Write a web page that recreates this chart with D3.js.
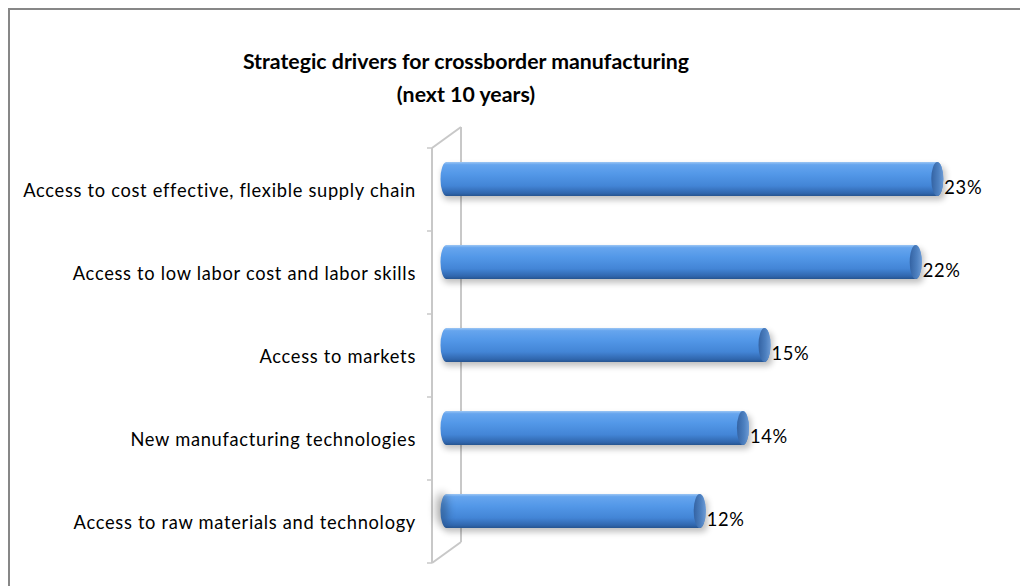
<!DOCTYPE html>
<html>
<head>
<meta charset="utf-8">
<script src="https://cdn.jsdelivr.net/npm/d3@7/dist/d3.min.js"></script>
<style>
  html, body { margin: 0; padding: 0; background: #fff; overflow: hidden; }
  svg { display: block; font-family: Lato, "Open Sans", sans-serif; }
</style>
</head>
<body>
<svg id="chart" width="1020" height="586"></svg>
<script>
// Survey results: strategic drivers for crossborder manufacturing
const categories = [
  "Access to cost effective, flexible supply chain",
  "Access to low labor cost and labor skills",
  "Access to markets",
  "New manufacturing technologies",
  "Access to raw materials and technology"
];
const shares = [23, 22, 15, 14, 12];
const titleLines = ["Strategic drivers for crossborder manufacturing", "(next 10 years)"];

const W = 1020, H = 586;
const svg = d3.select("#chart");

// outer chart-area frame (right and bottom edges fall outside the view)
svg.append("rect")
  .attr("x", 9).attr("y", 9)
  .attr("width", W + 20).attr("height", H + 20)
  .attr("fill", "#fff").attr("stroke", "#878787").attr("stroke-width", 2);

// pseudo-3D depth of the floor/wall
const depth = { dx: 29, dy: -21 };
const wallX = 432;

const y = d3.scaleBand().domain(categories).range([148, 563]).padding(0);
const x = d3.scaleLinear().domain([0, 25]).range([wallX + depth.dx / 2, wallX + depth.dx / 2 + 25 * 21.6]);

const defs = svg.append("defs");
const body = defs.append("linearGradient").attr("id", "cyl").attr("x1", 0).attr("y1", 0).attr("x2", 0).attr("y2", 1);
[[0, "#9cc6f4"], [0.08, "#66a5ee"], [0.35, "#5398e8"], [0.7, "#4385d6"], [0.92, "#3066ad"], [1, "#26548f"]]
  .forEach(([o, c]) => body.append("stop").attr("offset", o).attr("stop-color", c));
const cap = defs.append("linearGradient").attr("id", "cap").attr("x1", 0).attr("y1", 0).attr("x2", 1).attr("y2", 0);
[[0, "#3463a3"], [0.6, "#4d80c0"], [1, "#6c9ad4"]]
  .forEach(([o, c]) => cap.append("stop").attr("offset", o).attr("stop-color", c));
const soft = defs.append("filter").attr("id", "soft").attr("x", "-50%").attr("y", "-60%").attr("width", "200%").attr("height", "220%");
soft.append("feGaussianBlur").attr("stdDeviation", 3);
const softer = defs.append("filter").attr("id", "softer").attr("x", "-150%").attr("y", "-80%").attr("width", "400%").attr("height", "260%");
softer.append("feGaussianBlur").attr("stdDeviation", 4.5);

// wall: front edge, back edge and the slanted top / bottom joins
const wall = svg.append("g").attr("stroke", "#c8c8c8").attr("stroke-width", 2).attr("fill", "none");
const [y0, y1] = y.range();
wall.append("path").attr("d",
  `M${wallX},${y0}L${wallX},${y1}` +
  `M${wallX + depth.dx},${y0 + depth.dy}L${wallX + depth.dx},${y1 + depth.dy}` +
  `M${wallX},${y0}L${wallX + depth.dx},${y0 + depth.dy}` +
  `M${wallX},${y1}L${wallX + depth.dx},${y1 + depth.dy}`);

// category ticks on the front edge
const tickYs = categories.map(c => y(c)).concat([y1]);
wall.selectAll("line.tick").data(tickYs).join("line")
  .attr("x1", wallX - 5).attr("x2", wallX).attr("y1", d => d).attr("y2", d => d)
  .attr("stroke-width", 1.5);

// category labels
svg.append("g").selectAll("text").data(categories).join("text")
  .attr("x", 416).attr("y", d => y(d) + y.bandwidth() / 2)
  .attr("text-anchor", "end").attr("dominant-baseline", "central")
  .attr("font-size", 18.3).attr("letter-spacing", 0.7).attr("fill", "#000")
  .text(d => d);

// cylinders
const barH = y.bandwidth() * 0.41;
const rx = 6;
const bars = svg.append("g").selectAll("g").data(categories).join("g")
  .attr("transform", (d) => `translate(0,${y(d) + y.bandwidth() / 2 + depth.dy / 2})`);

// shadow cast by the lowest cylinder onto the wall
svg.append("ellipse")
  .attr("cx", x(0) - 5)
  .attr("cy", y(categories[categories.length - 1]) + y.bandwidth() / 2 + depth.dy / 2 - 2)
  .attr("rx", 6).attr("ry", barH / 2)
  .attr("fill", "#000").attr("opacity", 0.28).attr("filter", "url(#softer)");

bars.append("rect")
  .attr("x", x(0) - rx + 2).attr("y", -barH / 2 + 4)
  .attr("width", (d, i) => x(shares[i]) - x(0) + rx)
  .attr("height", barH)
  .attr("rx", rx).attr("fill", "#000").attr("opacity", 0.25)
  .attr("filter", "url(#soft)");

bars.append("path")
  .attr("d", (d, i) => {
    const a = x(0), b = x(shares[i]) - rx, h = barH / 2;
    return `M${b},${-h}L${a},${-h}A${rx},${h} 0 0 0 ${a},${h}L${b},${h}A${rx},${h} 0 0 0 ${b},${-h}Z`;
  })
  .attr("fill", "url(#cyl)");

bars.append("ellipse")
  .attr("cx", (d, i) => x(shares[i]) - rx)
  .attr("cy", 0).attr("rx", rx).attr("ry", barH / 2)
  .attr("fill", "url(#cap)");

// value labels
bars.append("text")
  .attr("x", (d, i) => x(shares[i]) + 1)
  .attr("y", 8)
  .attr("dominant-baseline", "central")
  .attr("font-size", 18.3).attr("letter-spacing", 0.7).attr("fill", "#000")
  .text((d, i) => `${shares[i]}%`);

// title
svg.append("g").selectAll("text").data(titleLines).join("text")
  .attr("x", 466).attr("y", (d, i) => 69 + i * 33)
  .attr("text-anchor", "middle")
  .attr("font-size", 21.3).attr("font-weight", "bold").attr("fill", "#000")
  .text(d => d);
</script>
</body>
</html>
